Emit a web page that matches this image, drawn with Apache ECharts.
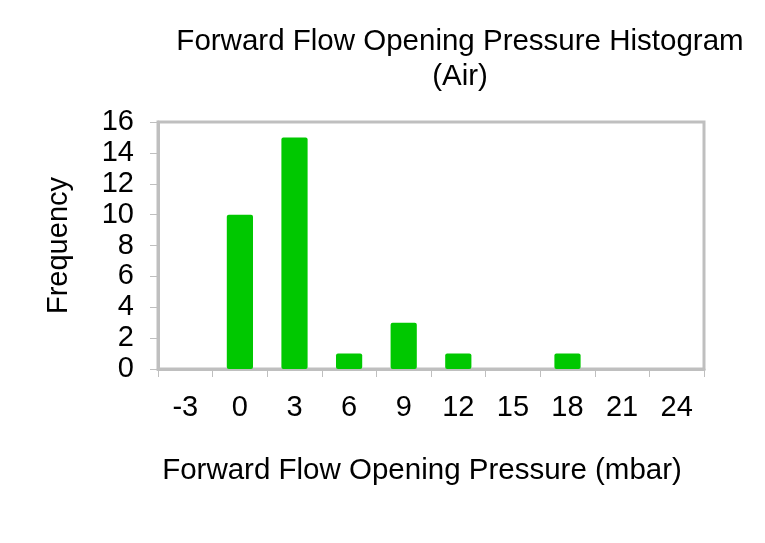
<!DOCTYPE html>
<html>
<head>
<meta charset="utf-8">
<script src="https://cdn.jsdelivr.net/npm/echarts@6/dist/echarts.min.js"></script>
<style>html,body{margin:0;padding:0;background:#fff;}#c{width:765px;height:543px;}</style>
</head>
<body>
<div id="c"></div>
<script>
const categories = ['-3', '0', '3', '6', '9', '12', '15', '18', '21', '24'];
const frequency = [0, 10, 15, 1, 3, 1, 0, 1, 0, 0];
const titleText = 'Forward Flow Opening Pressure Histogram\n(Air)';
const xName = 'Forward Flow Opening Pressure (mbar)';
const yName = 'Frequency';

const FONT = 'Liberation Sans, Arial, sans-serif';
const chart = echarts.init(document.getElementById('c'), null, {renderer: 'canvas'});
chart.setOption({
  backgroundColor: '#ffffff',
  animation: false,
  title: {
    text: titleText,
    left: 455, top: 19, textAlign: 'center',
    textStyle: {fontFamily: FONT, fontSize: 29.5, fontWeight: 'normal', color: '#000', lineHeight: 35}
  },
  grid: {left: 158, top: 122, right: 61, bottom: 174, show: true, borderColor: '#bfbfbf', borderWidth: 3, containLabel: false},
  xAxis: {
    type: 'category', data: categories, boundaryGap: true,
    name: xName, nameLocation: 'middle', nameGap: 87,
    nameTextStyle: {fontFamily: FONT, fontSize: 29.5, color: '#000', padding: [0, 18, 0, 0]},
    axisLine: {show: true, lineStyle: {color: '#bfbfbf', width: 3}},
    axisTick: {show: true, length: 8, lineStyle: {color: '#bfbfbf', width: 1}},
    axisLabel: {fontFamily: FONT, fontSize: 29, color: '#000', margin: 24},
    splitLine: {show: false}
  },
  yAxis: {
    type: 'value', min: 0, max: 16, interval: 2,
    name: yName, nameLocation: 'middle', nameGap: 85, nameRotate: 90,
    nameTextStyle: {fontFamily: FONT, fontSize: 29, color: '#000'},
    axisLine: {show: true, lineStyle: {color: '#bfbfbf', width: 3}},
    axisTick: {show: true, length: 8, lineStyle: {color: '#bfbfbf', width: 1}},
    axisLabel: {fontFamily: FONT, fontSize: 29, color: '#000', margin: 24},
    splitLine: {show: false}
  },
  series: [{
    type: 'bar', data: frequency, barWidth: '48%',
    itemStyle: {color: '#00c800', borderRadius: 2}
  }]
});
</script>
</body>
</html>
